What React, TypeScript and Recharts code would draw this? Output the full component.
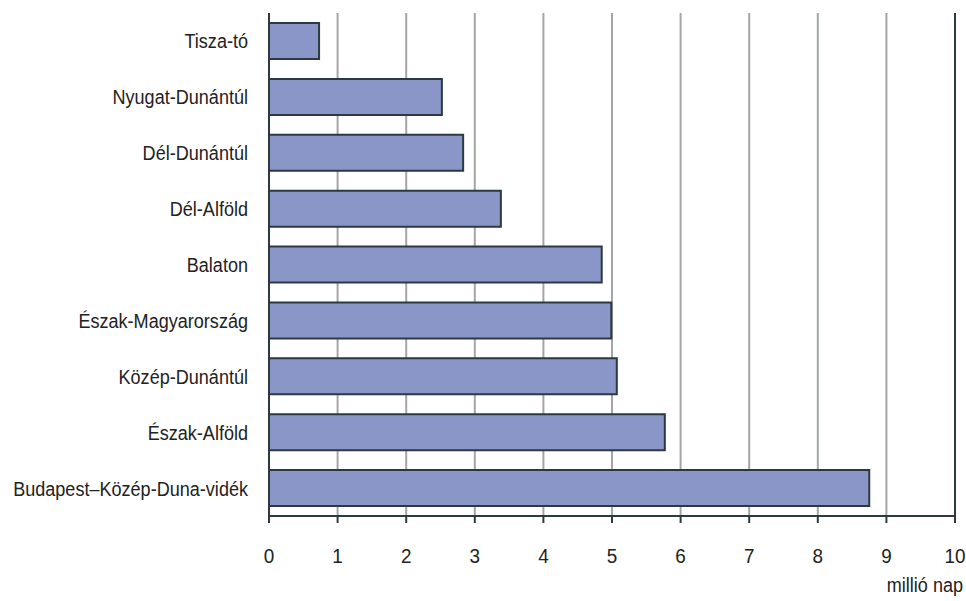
import { BarChart, Bar, XAxis, YAxis, CartesianGrid, ReferenceLine, Label } from 'recharts';

const regions = [
  'Tisza-tó',
  'Nyugat-Dunántúl',
  'Dél-Dunántúl',
  'Dél-Alföld',
  'Balaton',
  'Észak-Magyarország',
  'Közép-Dunántúl',
  'Észak-Alföld',
  'Budapest–Közép-Duna-vidék',
];

const guestNights = [0.73, 2.52, 2.83, 3.38, 4.85, 4.99, 5.07, 5.77, 8.75];

const xTicks = [0, 1, 2, 3, 4, 5, 6, 7, 8, 9, 10];

const unitLabel = 'millió nap';

const data = regions.map((name, i) => ({ name, value: guestNights[i] }));

const font = '"Liberation Sans", Arial, sans-serif';
const dark = '#2c3a3f';
const textColor = '#222';
const fontSize = 21;
// narrow look, the original uses a condensed face
const squeeze = 0.86;

const CategoryTick = (props: any) => {
  const { x, y, payload } = props;
  return (
    <text
      transform={`translate(${x},${y}) scale(${squeeze},1)`}
      textAnchor="end"
      dy="0.355em"
      fill={textColor}
      fontSize={fontSize}
      fontFamily={font}
    >
      {payload.value}
    </text>
  );
};

const NumberTick = (props: any) => {
  const { x, y, payload } = props;
  return (
    <text
      transform={`translate(${x},${y}) scale(0.9,1)`}
      textAnchor="middle"
      dy="0.71em"
      fill={textColor}
      fontSize={fontSize}
      fontFamily={font}
    >
      {payload.value}
    </text>
  );
};

const UnitLabel = (props: any) => {
  const vb = props.viewBox;
  const x = vb.x + vb.width + 8;
  const y = vb.y + 76;
  return (
    <text
      transform={`translate(${x},${y}) scale(${squeeze},1)`}
      textAnchor="end"
      fill={textColor}
      fontSize={fontSize}
      fontFamily={font}
    >
      {unitLabel}
    </text>
  );
};

export default function App() {
  return (
    <div style={{ position: 'absolute', left: 0, top: 0, background: '#fff' }}>
      <BarChart
        width={966}
        height={601}
        layout="vertical"
        data={data}
        margin={{ top: 13, right: 11, bottom: 5, left: 0 }}
        barSize={36}
      >
        <CartesianGrid horizontal={false} stroke="#a3a6a8" strokeWidth={2} />
        <XAxis
          type="number"
          domain={[0, 10]}
          ticks={xTicks}
          interval={0}
          height={80}
          tickSize={7}
          tickMargin={25}
          axisLine={{ stroke: dark, strokeWidth: 2 }}
          tickLine={{ stroke: dark, strokeWidth: 2 }}
          tick={<NumberTick />}
        >
          <Label content={<UnitLabel />} />
        </XAxis>
        <XAxis
          xAxisId="top"
          orientation="top"
          type="number"
          domain={[0, 10]}
          height={0}
          tick={false}
          tickLine={false}
          axisLine={{ stroke: dark, strokeWidth: 2 }}
        />
        <YAxis
          type="category"
          dataKey="name"
          width={269}
          tickSize={0}
          tickMargin={21}
          axisLine={{ stroke: dark, strokeWidth: 2 }}
          tickLine={false}
          tick={<CategoryTick />}
        />
        <ReferenceLine x={10} stroke={dark} strokeWidth={2} />
        <Bar
          dataKey="value"
          fill="#8a96c8"
          stroke={dark}
          strokeWidth={2}
          isAnimationActive={false}
        />
      </BarChart>
    </div>
  );
}
